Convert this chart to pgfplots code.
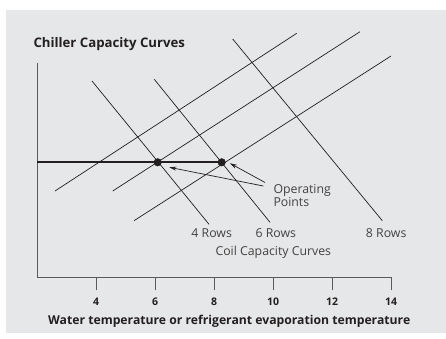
\documentclass[border=0pt]{standalone}
\usepackage{fontspec}
\setmainfont{Open Sans}
\usepackage{pgfplots}
\pgfplotsset{compat=1.18}
\usetikzlibrary{arrows.meta}
\definecolor{panel}{RGB}{230,231,232}
\definecolor{ink}{RGB}{35,31,32}
\definecolor{axisgray}{RGB}{90,90,90}

\begin{document}
\begin{tikzpicture}[x=1pt,y=1pt]
% page and grey panel (1pt = 1px of the reference)
\fill[white] (0,0) rectangle (446,338);
\fill[panel] (6,5) rectangle (446,328);
\node[anchor=west, inner sep=0, font=\bfseries\fontsize{13.2}{15}\selectfont, text=ink]
  at (33.3,293.7) {Chiller Capacity Curves};

\begin{axis}[
    at={(37pt,60.7pt)}, anchor=south west,
    x=29.5pt, y=1pt,
    xmin=2, xmax=14, ymin=60.7, ymax=275,
    axis x line*=bottom, axis y line*=left,
    axis line style={-, draw=axisgray, line width=0.9pt},
    xtick={4,6,8,10,12,14}, ytick=\empty,
    tick align=outside, major tick length=13pt,
    tick style={draw=axisgray, line width=0.9pt},
    xticklabel style={font=\bfseries\fontsize{10.5}{12}\selectfont, text=ink, yshift=-4pt},
    /pgf/number format/assume math mode=true,
    xlabel={Water temperature or refrigerant evaporation temperature},
    xlabel style={at={(axis cs:8.515,16.3)}, anchor=center, inner sep=0,
        font=\bfseries\fontsize{12.2}{14}\selectfont, text=ink},
    clip=false,
]
% chiller capacity curves
\addplot[ink, line width=0.7pt] coordinates {(2.610,147) (10.803,304.7)};
\addplot[ink, line width=0.7pt] coordinates {(4.566,147) (12.949,306.3)};
\addplot[ink, line width=0.7pt] coordinates {(5.288,117.3) (14.0,282)};
% coil capacity curves
\addplot[ink, line width=0.7pt] coordinates {(3.864,257) (7.831,113.7)};
\addplot[ink, line width=0.7pt] coordinates {(5.976,258.7) (9.898,115.7)};
\addplot[ink, line width=0.7pt] coordinates {(8.634,299) (13.705,117.3)};
% load line
\addplot[ink, line width=2pt] coordinates {(2,175.7) (8.261,175.7)};
% operating points
\addplot[only marks, mark=*, mark size=3.8pt, ink] coordinates {(6.092,175.7) (8.261,175.7)};
% arrows
\addplot[ink, line width=0.7pt, -{Stealth[length=7pt,width=4pt]}] coordinates {(9.671,152) (6.485,170.7)};
\addplot[ink, line width=0.7pt, -{Stealth[length=7pt,width=4pt]}] coordinates {(9.729,155.5) (8.542,174.7)};

\begin{scope}[font=\fontsize{12.3}{13.3}\selectfont, text=ink!85]
\node[anchor=west, align=left, inner sep=0] at (axis cs:10.010,142.3) {Operating\\Points};
\node at (axis cs:7.922,104.7) {4 Rows};
\node at (axis cs:10.095,104.7) {6 Rows};
\node at (axis cs:13.837,104.7) {8 Rows};
\node at (axis cs:10.010,85.7) {Coil Capacity Curves};
\end{scope}
\end{axis}
\end{tikzpicture}
\end{document}
